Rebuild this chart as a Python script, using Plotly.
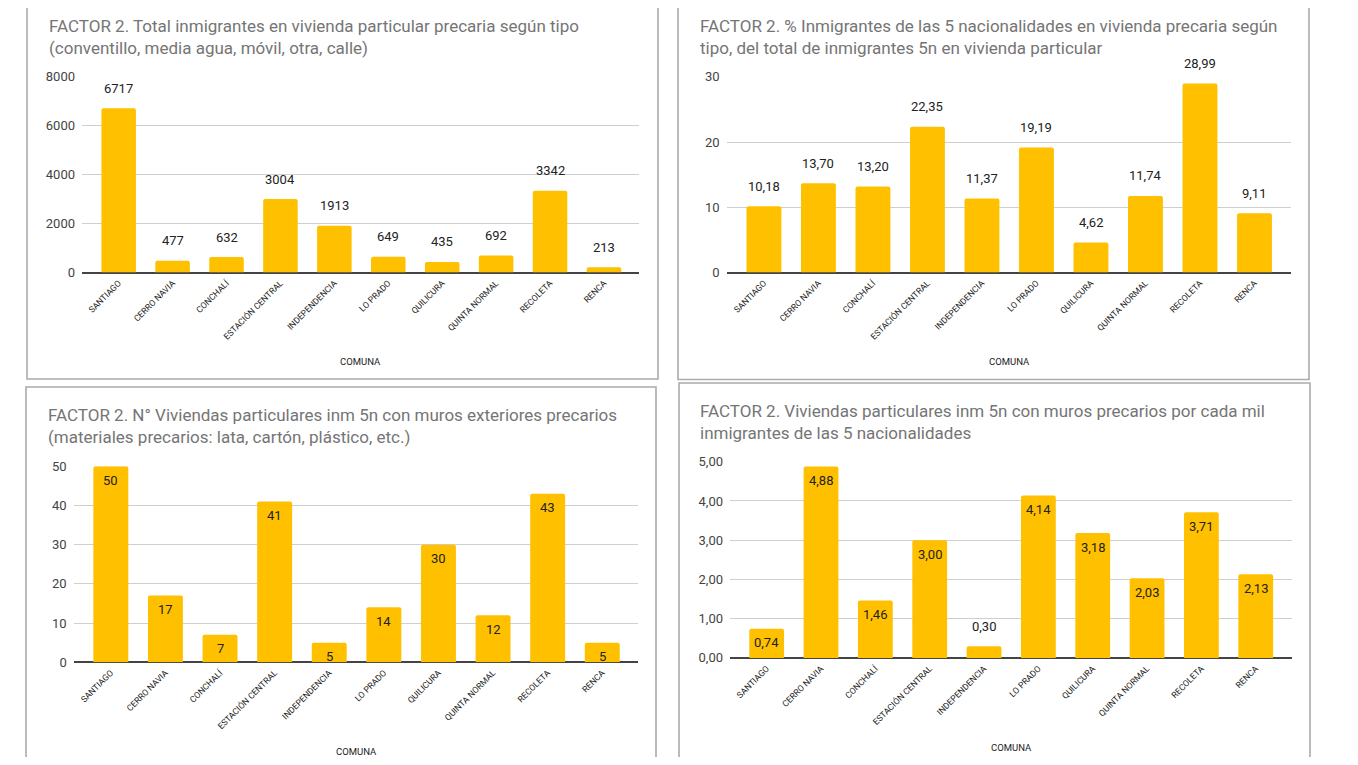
import plotly.graph_objects as go

# ---------------- data ----------------
comunas = ["SANTIAGO", "CERRO NAVIA", "CONCHALÍ", "ESTACIÓN CENTRAL", "INDEPENDENCIA",
           "LO PRADO", "QUILICURA", "QUINTA NORMAL", "RECOLETA", "RENCA"]
total_precaria = [6717, 477, 632, 3004, 1913, 649, 435, 692, 3342, 213]
pct_precaria = [10.18, 13.70, 13.20, 22.35, 11.37, 19.19, 4.62, 11.74, 28.99, 9.11]
muros_precarios = [50, 17, 7, 41, 5, 14, 30, 12, 43, 5]
muros_por_mil = [0.74, 4.88, 1.46, 3.00, 0.30, 4.14, 3.18, 2.03, 3.71, 2.13]

titles = [
    "FACTOR 2. Total inmigrantes en vivienda particular precaria según tipo<br>(conventillo, media agua, móvil, otra, calle)",
    "FACTOR 2. % Inmigrantes de las 5 nacionalidades en vivienda precaria según<br>tipo, del total de inmigrantes 5n en vivienda particular",
    "FACTOR 2. N° Viviendas particulares inm 5n con muros exteriores precarios<br>(materiales precarios: lata, cartón, plástico, etc.)",
    "FACTOR 2. Viviendas particulares inm 5n con muros precarios por cada mil<br>inmigrantes de las 5 nacionalidades",
]
x_title = "COMUNA"

# ---------------- layout constants (pixels in the 1358x765 page) ----------------
PAGE_W, PAGE_H = 1358, 765
OFF = 8                       # default body margin of the html page
W, H = PAGE_W - 2 * OFF, PAGE_H - 2 * OFF
# vertical calibration measured from the rendered page
VSCALE, VSHIFT = 0.979, 7.6
BAR = "#FFC000"
FONT = "Roboto, Arial, sans-serif"


def fx(p):
    return (p - OFF) / W


def fy(p):
    q = (p - VSHIFT) / VSCALE
    return 1 - (q - OFF) / H


panels = [
    dict(vals=total_precaria, ymax=8000, dtick=2000, tfmt="d", lfmt=lambda v: f"{v:d}",
         box=(82, 639, 77.3, 272.7), xr=[-0.68, 9.65], mode="out",
         title=(47, 37.5), comuna=(360, 362), border=(27, 658, -8, 379)),
    dict(vals=pct_precaria, ymax=30, dtick=10, tfmt="d", lfmt=lambda v: f"{v:.2f}".replace(".", ","),
         box=(726.6, 1291, 77.3, 272.7), xr=[-0.685, 9.67], mode="out",
         title=(698, 37.5), comuna=(1009, 362), border=(678, 1309, -8, 379.5)),
    dict(vals=muros_precarios, ymax=50, dtick=10, tfmt="d", lfmt=lambda v: f"{v:d}",
         box=(73.7, 638.3, 466.3, 662), xr=[-0.68, 9.66], mode="in",
         title=(45.5, 426.3), comuna=(356, 751), border=(26, 656, 387, 800)),
    dict(vals=muros_por_mil, ymax=5, dtick=1, tfmt=".2f", lfmt=lambda v: f"{v:.2f}".replace(".", ","),
         box=(730, 1291.6, 461.7, 657.7), xr=[-0.675, 9.66], mode="in",
         title=(698.4, 422.3), comuna=(1011, 747.3), border=(679, 1310, 383, 800)),
]

fig = go.Figure()
annotations = []
shapes = []

for i, p in enumerate(panels, start=1):
    xa = "x" if i == 1 else f"x{i}"
    ya = "y" if i == 1 else f"y{i}"
    fig.add_trace(go.Bar(
        x=comunas, y=p["vals"], xaxis=xa, yaxis=ya,
        marker=dict(color=BAR, line=dict(width=0), cornerradius=2),
        width=0.64, showlegend=False, hoverinfo="x+y",
    ))
    x0, x1, yt, yb = p["box"]
    plot_h = yb - yt
    axis_x = dict(
        domain=[fx(x0), fx(x1)], type="category", range=p["xr"], anchor=ya,
        showgrid=False, showline=False, ticks="", tickangle=-45,
        tickfont=dict(family=FONT, size=8.6, color="#222"), ticklabelstandoff=3,
        fixedrange=True,
    )
    axis_y = dict(
        domain=[fy(yb), fy(yt)], range=[0, p["ymax"]], dtick=p["dtick"], tick0=0,
        tickformat=p["tfmt"], anchor=xa, showgrid=True, gridcolor="#cfcfcf", gridwidth=1,
        zeroline=True, zerolinecolor="#444", zerolinewidth=1.6, showline=False, ticks="",
        tickfont=dict(family=FONT, size=13, color="#444"), ticklabelstandoff=6,
        fixedrange=True,
    )
    key = "" if i == 1 else str(i)
    fig.update_layout(**{f"xaxis{key}": axis_x, f"yaxis{key}": axis_y})

    # value labels
    for c, v in zip(comunas, p["vals"]):
        bar_px = v / p["ymax"] * plot_h
        inside = p["mode"] == "in" and bar_px >= 16
        annotations.append(dict(
            x=c, y=v, xref=xa, yref=ya, text=p["lfmt"](v), showarrow=False,
            yanchor="middle", xanchor="center", yshift=-14 if inside else 20,
            font=dict(family=FONT, size=13, color="#222"),
        ))

    # title
    tx, ty = p["title"]
    annotations.append(dict(
        x=fx(tx), y=fy(ty), xref="paper", yref="paper", text=titles[i - 1],
        showarrow=False, xanchor="left", yanchor="middle", align="left",
        font=dict(family=FONT, size=17, color="#757575"),
    ))
    # x axis title
    cx, cy = p["comuna"]
    annotations.append(dict(
        x=fx(cx), y=fy(cy), xref="paper", yref="paper", text=x_title,
        showarrow=False, xanchor="center", yanchor="middle",
        font=dict(family=FONT, size=9.5, color="#222"),
    ))
    # panel border
    bx0, bx1, by0, by1 = p["border"]
    shapes.append(dict(
        type="rect", xref="paper", yref="paper",
        x0=fx(bx0), x1=fx(bx1), y0=fy(by1), y1=fy(by0),
        line=dict(color="#ababab", width=1.6), fillcolor="rgba(0,0,0,0)", layer="below",
    ))

fig.update_layout(
    width=W, height=H, autosize=False,
    margin=dict(l=0, r=0, t=0, b=0, pad=0),
    paper_bgcolor="white", plot_bgcolor="white",
    separators=",.",
    font=dict(family=FONT, color="#444"),
    annotations=annotations, shapes=shapes,
    showlegend=False, bargap=0.36,
)

fig.write_html("out.html", include_plotlyjs=True, config={"displayModeBar": False})
